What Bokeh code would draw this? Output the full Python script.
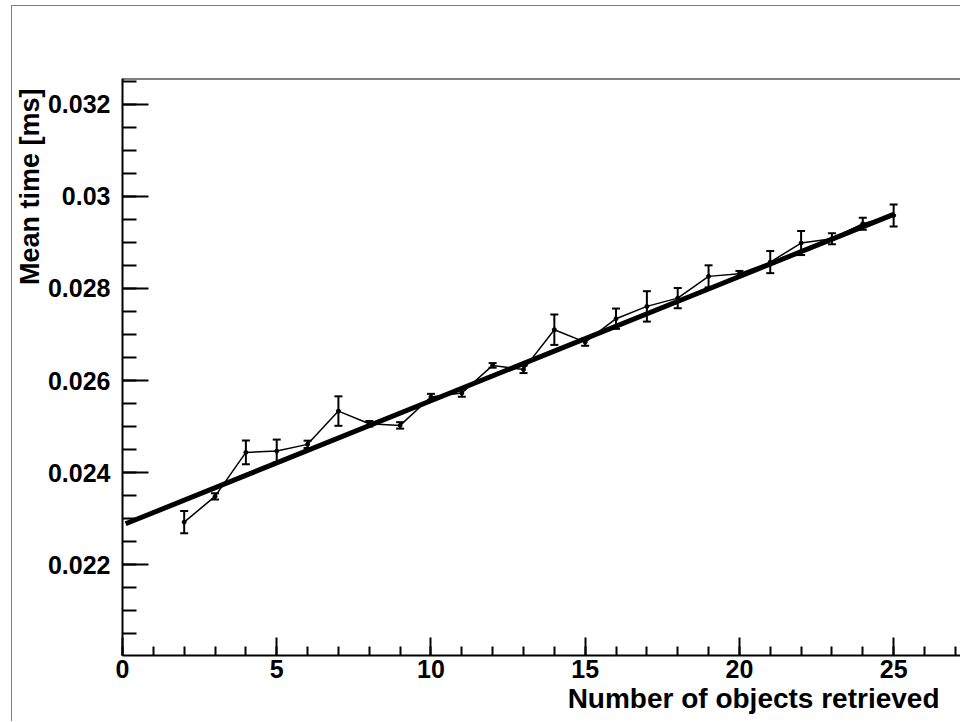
from bokeh.plotting import figure
from bokeh.models import (Range1d, SingleIntervalTicker, CustomJSTickFormatter, Whisker,
                          TeeHead, ColumnDataSource, Title, Span)
from bokeh.embed import file_html
from bokeh.resources import INLINE

# ---- data ----
n_objects = [2, 3, 4, 5, 6, 7, 8, 9, 10, 11, 12, 13, 14, 15, 16, 17, 18, 19, 20, 21, 22, 23, 24, 25]
mean_time = [0.022927, 0.023485, 0.024441, 0.024469, 0.024615, 0.025338, 0.025062, 0.025027,
             0.025642, 0.025729, 0.026330, 0.026243, 0.027105, 0.026836, 0.027344, 0.027611,
             0.027791, 0.028263, 0.028321, 0.028573, 0.028986, 0.029081, 0.029406, 0.029586]
mean_err = [0.00024, 0.00007, 0.00026, 0.00025, 0.00008, 0.00032, 0.00006, 0.00007,
            0.00007, 0.00008, 0.00005, 0.00008, 0.00033, 0.00008, 0.00022, 0.00033,
            0.00022, 0.00024, 0.00006, 0.00024, 0.00026, 0.00012, 0.00013, 0.00024]
fit_x = [0.1, 25.0]
fit_y = [0.02289, 0.02961]

x_title = "Number of objects retrieved"
y_title = "Mean time [ms]"

FONT = "Liberation Sans"

src = ColumnDataSource(dict(
    x=n_objects, y=mean_time,
    upper=[m + e for m, e in zip(mean_time, mean_err)],
    lower=[m - e for m, e in zip(mean_time, mean_err)],
))

p = figure(width=949, height=716, output_backend="svg", toolbar_location=None,
           x_range=Range1d(0, 27.2), y_range=Range1d(0.02003, 0.03256),
           min_border_left=107, min_border_right=0, min_border_top=72, min_border_bottom=67,
           background_fill_color="white", border_fill_color="white")
p.styles = {"margin-left": "11px", "margin-top": "5px",
            "border-left": "1px solid #808080", "border-top": "1px solid #808080"}
p.outline_line_color = None
p.xgrid.visible = False
p.ygrid.visible = False

# axes
for ax in (p.xaxis[0], p.yaxis[0]):
    ax.axis_line_width = 2
    ax.axis_line_color = "black"
    ax.major_tick_line_width = 2
    ax.minor_tick_line_width = 2
    ax.major_tick_line_color = "black"
    ax.minor_tick_line_color = "black"
    ax.major_tick_out = 0
    ax.minor_tick_out = 0
    ax.major_label_text_font = FONT
    ax.major_label_text_font_style = "bold"
    ax.major_label_text_font_size = "25px"
    ax.major_label_text_color = "black"

p.xaxis.ticker = SingleIntervalTicker(interval=5, num_minor_ticks=5)
p.xaxis.major_tick_in = 18
p.xaxis.minor_tick_in = 9
p.xaxis.major_label_standoff = 4

p.yaxis.ticker = SingleIntervalTicker(interval=0.002, num_minor_ticks=4)
p.yaxis.major_tick_in = 26
p.yaxis.minor_tick_in = 14
p.yaxis.major_label_standoff = 12
p.yaxis.formatter = CustomJSTickFormatter(code="return String(parseFloat(tick.toFixed(4)));")

# top frame line
p.add_layout(Span(location=0.03256, dimension="width", line_color="black", line_width=2))

# fit line
p.line(fit_x, fit_y, line_color="black", line_width=5)

# data
p.line("x", "y", source=src, line_color="black", line_width=1.5)
p.add_layout(Whisker(base="x", upper="upper", lower="lower", source=src,
                     line_color="black", line_width=2,
                     upper_head=TeeHead(size=8, line_width=2, line_color="black"),
                     lower_head=TeeHead(size=8, line_width=2, line_color="black")))
p.scatter("x", "y", source=src, size=4, color="black")

# axis titles (right / top aligned as in the reference)
p.add_layout(Title(text=x_title, align="right", offset=22, standoff=0,
                   text_font=FONT, text_font_style="bold", text_font_size="28px",
                   text_color="black"), "below")
p.add_layout(Title(text=y_title, align="right", offset=10, standoff=0,
                   text_font=FONT, text_font_style="bold", text_font_size="27px",
                   text_color="black"), "left")

open("out.html", "w").write(file_html(p, INLINE))
